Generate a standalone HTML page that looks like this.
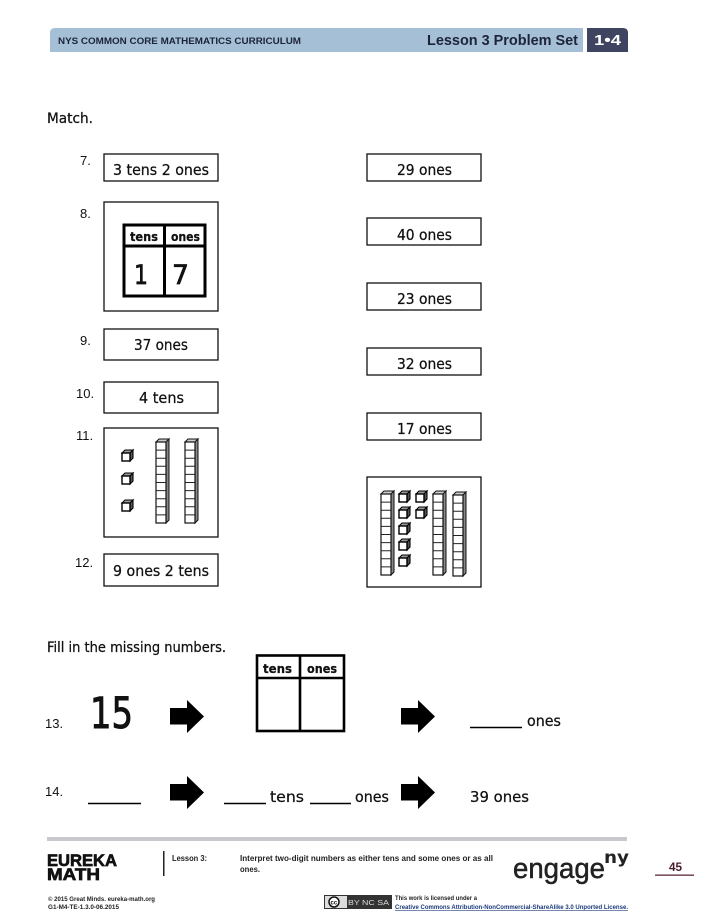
<!DOCTYPE html>
<html><head><meta charset="utf-8"><style>
html,body{margin:0;padding:0;background:#fff}
svg{display:block}
.c{font-family:"DejaVu Sans",sans-serif;fill:#111;stroke:#111;stroke-width:.25px}
.b{font-family:"Liberation Sans",sans-serif;font-weight:bold;fill:#222}
.s{font-family:"Liberation Sans",sans-serif;fill:#111}
</style></head><body>
<svg width="717" height="918" viewBox="0 0 717 918" xmlns="http://www.w3.org/2000/svg">
<defs>
<g id="rod">
<path d="M0 3L3 0H13L10 3Z" fill="#ccc" stroke="#111" stroke-width="1"/>
<path d="M10 3L13 0V81L10 84Z" fill="#888" stroke="#111" stroke-width="1"/>
<rect x="0" y="3" width="10" height="81" fill="#fff" stroke="#111" stroke-width="1.200"/>
<path d="M0 11.100H10M0 19.200H10M0 27.300H10M0 35.400H10M0 43.500H10M0 51.600H10M0 59.700H10M0 67.800H10M0 75.900H10" stroke="#222" stroke-width="1"/>
</g>
<g id="cube">
<path d="M0 3L3 0H11L8 3Z" fill="#999" stroke="#000" stroke-width="1.100"/>
<path d="M8 3L11 0V8L8 11Z" fill="#555" stroke="#000" stroke-width="1.100"/>
<rect x="0" y="3" width="8" height="8" fill="#fff" stroke="#000" stroke-width="1.400"/>
</g>
<path id="arr" d="M0 8H17V0L34 16.500L17 33V24.500H0Z" fill="#000"/>
</defs>

<!-- header -->
<path d="M50 33Q50 28 55 28H583V52H50Z" fill="#a5bfd6"/>
<path d="M587 28H623Q628 28 628 33V52H587Z" fill="#3f4560"/>
<text class="b" x="58" y="44" font-size="9.500" textLength="243" lengthAdjust="spacingAndGlyphs" style="fill:#1c2438">NYS COMMON CORE MATHEMATICS CURRICULUM</text>
<text class="b" x="427" y="45" font-size="15" textLength="151" lengthAdjust="spacingAndGlyphs" style="fill:#1c2438">Lesson 3 Problem Set</text>
<text class="b" x="594" y="45" font-size="15" textLength="27" lengthAdjust="spacingAndGlyphs" style="fill:#fff">1•4</text>

<text class="c" x="47" y="123" font-size="14" textLength="46" lengthAdjust="spacingAndGlyphs">Match.</text>

<!-- numbers -->
<g font-size="13">
<text class="s" x="80" y="165">7.</text>
<text class="s" x="80" y="218">8.</text>
<text class="s" x="80" y="345">9.</text>
<text class="s" x="76" y="398">10.</text>
<text class="s" x="76" y="440">11.</text>
<text class="s" x="75" y="567">12.</text>
<text class="s" x="45" y="728">13.</text>
<text class="s" x="45" y="796">14.</text>
</g>

<!-- boxes -->
<g fill="#fff" stroke="#111" stroke-width="1.300">
<rect x="104" y="154" width="114" height="27"/>
<rect x="104" y="202" width="114" height="109"/>
<rect x="104" y="329" width="114" height="31"/>
<rect x="104" y="382" width="114" height="31"/>
<rect x="104" y="428" width="114" height="109"/>
<rect x="104" y="554" width="114" height="32"/>
<rect x="367" y="154" width="114" height="27"/>
<rect x="367" y="218" width="114" height="27"/>
<rect x="367" y="283" width="114" height="27"/>
<rect x="367" y="348" width="114" height="27"/>
<rect x="367" y="413" width="114" height="27"/>
<rect x="367" y="477" width="114" height="110"/>
</g>

<g font-size="15">
<text class="c" x="113" y="175" textLength="96" lengthAdjust="spacingAndGlyphs">3 tens 2 ones</text>
<text class="c" x="134" y="350" textLength="54" lengthAdjust="spacingAndGlyphs">37 ones</text>
<text class="c" x="139" y="403" textLength="45" lengthAdjust="spacingAndGlyphs">4 tens</text>
<text class="c" x="113" y="576" textLength="96" lengthAdjust="spacingAndGlyphs">9 ones 2 tens</text>
<text class="c" x="397" y="175" textLength="55" lengthAdjust="spacingAndGlyphs">29 ones</text>
<text class="c" x="397" y="240" textLength="55" lengthAdjust="spacingAndGlyphs">40 ones</text>
<text class="c" x="397" y="304" textLength="55" lengthAdjust="spacingAndGlyphs">23 ones</text>
<text class="c" x="397" y="369" textLength="55" lengthAdjust="spacingAndGlyphs">32 ones</text>
<text class="c" x="397" y="434" textLength="55" lengthAdjust="spacingAndGlyphs">17 ones</text>
</g>

<!-- table 8 -->
<g fill="none" stroke="#000" stroke-width="3">
<rect x="124" y="225" width="81" height="71"/>
<path d="M124 246H205M164.500 225V296"/>
</g>
<text class="c" x="130" y="241" font-size="12.500" font-weight="bold" textLength="28" lengthAdjust="spacingAndGlyphs">tens</text>
<text class="c" x="171" y="241" font-size="12.500" font-weight="bold" textLength="29" lengthAdjust="spacingAndGlyphs">ones</text>
<text class="c" x="134" y="284" font-size="27" textLength="14" lengthAdjust="spacingAndGlyphs" style="stroke-width:.7px">1</text>
<text class="c" x="172" y="284" font-size="27" textLength="17" lengthAdjust="spacingAndGlyphs" style="stroke-width:.7px">7</text>

<!-- base ten 11 -->
<use href="#cube" x="122" y="450"/>
<use href="#cube" x="122" y="473"/>
<use href="#cube" x="122" y="500"/>
<use href="#rod" x="156" y="439"/>
<use href="#rod" x="185" y="439"/>

<!-- base ten right -->
<use href="#rod" x="381" y="491"/>
<use href="#rod" x="433" y="491"/>
<use href="#rod" x="453" y="492"/>
<use href="#cube" x="399" y="491"/>
<use href="#cube" x="399" y="507"/>
<use href="#cube" x="399" y="523"/>
<use href="#cube" x="399" y="539"/>
<use href="#cube" x="399" y="555"/>
<use href="#cube" x="416" y="491"/>
<use href="#cube" x="416" y="507"/>

<text class="c" x="47" y="652" font-size="14" textLength="179" lengthAdjust="spacingAndGlyphs">Fill in the missing numbers.</text>

<!-- 13 -->
<text class="c" x="90" y="728" font-size="43" textLength="43" lengthAdjust="spacingAndGlyphs" style="stroke-width:1px">15</text>
<use href="#arr" x="170" y="700"/>
<g fill="none" stroke="#000" stroke-width="2.600">
<rect x="257" y="655.500" width="87" height="75.500"/>
<path d="M257 678H344M300 655.500V731"/>
</g>
<text class="c" x="263" y="673" font-size="12.500" font-weight="bold" textLength="29" lengthAdjust="spacingAndGlyphs">tens</text>
<text class="c" x="307" y="673" font-size="12.500" font-weight="bold" textLength="30" lengthAdjust="spacingAndGlyphs">ones</text>
<use href="#arr" x="401" y="700"/>
<path d="M470 727.500H522" stroke="#000" stroke-width="1.600"/>
<text class="c" x="527" y="726" font-size="15" textLength="34" lengthAdjust="spacingAndGlyphs">ones</text>

<!-- 14 -->
<path d="M88 803.500H141M224 803.500H266M310 803.500H351" stroke="#000" stroke-width="1.600"/>
<use href="#arr" x="170" y="776"/>
<text class="c" x="270" y="802" font-size="15" textLength="34" lengthAdjust="spacingAndGlyphs">tens</text>
<text class="c" x="355" y="802" font-size="15" textLength="34" lengthAdjust="spacingAndGlyphs">ones</text>
<use href="#arr" x="401" y="776"/>
<text class="c" x="470" y="802" font-size="15" textLength="59" lengthAdjust="spacingAndGlyphs">39 ones</text>

<!-- footer -->
<rect x="47" y="837" width="580" height="4" fill="#c8c9cf"/>
<text x="47" y="866" font-family="'Liberation Sans',sans-serif" font-weight="bold" font-size="17" textLength="70" lengthAdjust="spacingAndGlyphs" stroke="#111" stroke-width=".7" fill="#111">EUREKA</text>
<text x="47" y="880" font-family="'Liberation Sans',sans-serif" font-weight="bold" font-size="17" textLength="53" lengthAdjust="spacingAndGlyphs" stroke="#111" stroke-width=".7" fill="#111">MATH</text>
<rect x="163" y="851" width="1.500" height="25" fill="#222"/>
<text class="b" x="172" y="861" font-size="8" textLength="35" lengthAdjust="spacingAndGlyphs">Lesson 3:</text>
<text class="b" x="240" y="861" font-size="8" textLength="253" lengthAdjust="spacingAndGlyphs">Interpret two-digit numbers as either tens and some ones or as all</text>
<text class="b" x="240" y="872" font-size="8" textLength="20" lengthAdjust="spacingAndGlyphs">ones.</text>
<text x="513" y="878" font-family="'Liberation Sans',sans-serif" font-size="29" textLength="92" lengthAdjust="spacingAndGlyphs" fill="#222" stroke="#222" stroke-width=".5">engage</text>
<text x="604" y="863" font-family="'DejaVu Sans',sans-serif" font-weight="bold" font-size="17" textLength="25" lengthAdjust="spacingAndGlyphs" fill="#222">ny</text>
<text class="b" x="669" y="871" font-size="11.500" textLength="13" lengthAdjust="spacingAndGlyphs" style="fill:#4a1a2a">45</text>
<rect x="655" y="874.500" width="39" height="1.300" fill="#5a2a3a"/>
<text class="b" x="48" y="901" font-size="6" textLength="107" lengthAdjust="spacingAndGlyphs">© 2015 Great Minds. eureka-math.org</text>
<text class="b" x="48" y="909" font-size="6" textLength="71" lengthAdjust="spacingAndGlyphs">G1-M4-TE-1.3.0-06.2015</text>
<rect x="324" y="895" width="68" height="14" fill="#333"/>
<rect x="325" y="896" width="22" height="12" fill="#ddd"/>
<circle cx="334" cy="902" r="5" fill="#fff" stroke="#111" stroke-width="1.500"/>
<text x="330.500" y="904.500" font-family="'Liberation Sans',sans-serif" font-weight="bold" font-size="6" fill="#111">cc</text>
<text x="348" y="905" font-family="'Liberation Sans',sans-serif" font-size="7" textLength="41" lengthAdjust="spacingAndGlyphs" fill="#ddd">BY NC SA</text>
<text class="b" x="395" y="900" font-size="6" textLength="82" lengthAdjust="spacingAndGlyphs">This work is licensed under a</text>
<text class="b" x="395" y="909" font-size="6" textLength="233" lengthAdjust="spacingAndGlyphs" style="fill:#1a3a7a" text-decoration="underline">Creative Commons Attribution-NonCommercial-ShareAlike 3.0 Unported License.</text>
</svg>
</body></html>
